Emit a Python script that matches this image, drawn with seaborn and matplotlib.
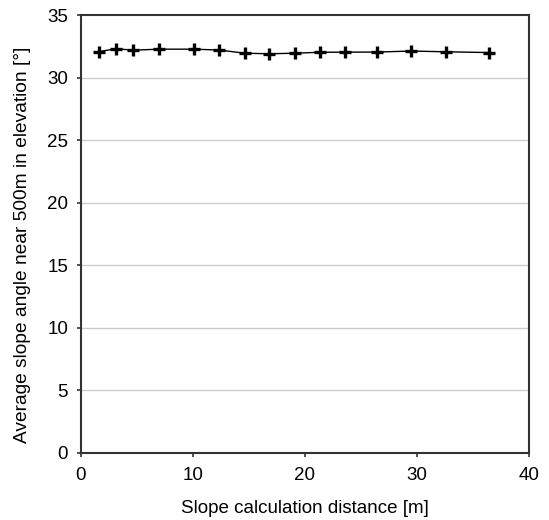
import matplotlib
matplotlib.use("Agg")
import matplotlib.pyplot as plt
import seaborn as sns
import pandas as pd

# Slope calculation distance (m) and mean slope angle (degrees)
distance_m = [1.63, 3.17, 4.69, 7.01, 10.10, 12.33, 14.62, 16.82, 19.13,
              21.31, 23.54, 26.45, 29.45, 32.57, 36.38]
slope_deg = [32.08, 32.30, 32.19, 32.27, 32.27, 32.20, 31.95, 31.90, 31.95,
             32.02, 32.03, 32.04, 32.12, 32.06, 32.00]

x_ticks = [0, 10, 20, 30, 40]
y_ticks = [0, 5, 10, 15, 20, 25, 30, 35]

df = pd.DataFrame({"distance": distance_m, "slope": slope_deg})

sns.set_theme(style="white")
plt.rcParams["font.family"] = ["Liberation Sans", "DejaVu Sans"]

fig = plt.figure(figsize=(5.49, 5.20), dpi=100)
ax = fig.add_axes([0.147, 0.1294, 0.817, 0.8417])

sns.lineplot(data=df, x="distance", y="slope", ax=ax, color="black",
             linewidth=1.0, marker="+", markersize=8.5, markeredgewidth=2.4,
             markeredgecolor="black")

ax.set_xlim(0, 40)
ax.set_ylim(0, 35)
ax.set_xticks(x_ticks)
ax.set_yticks(y_ticks)
ax.tick_params(axis="both", direction="out", length=3, width=1.2,
               color="#333333", labelsize=13.5, labelcolor="black",
               bottom=True, left=True)
ax.tick_params(axis="x", pad=7)
ax.tick_params(axis="y", pad=6)

for y in y_ticks[1:-1]:
    ax.axhline(y, color="#cccccc", linewidth=1.0, zorder=0)

for side in ["left", "right", "top", "bottom"]:
    ax.spines[side].set_visible(True)
    ax.spines[side].set_color("#333333")
    ax.spines[side].set_linewidth(1.5)

ax.set_xlabel("Slope calculation distance [m]", fontsize=13.5, labelpad=12,
              color="black")
ax.set_ylabel("Average slope angle near 500m in elevation [°]", fontsize=13.8,
              labelpad=12, color="black")
ax.yaxis.label.set_y(0.475)

fig.savefig("out.png", dpi=100)
